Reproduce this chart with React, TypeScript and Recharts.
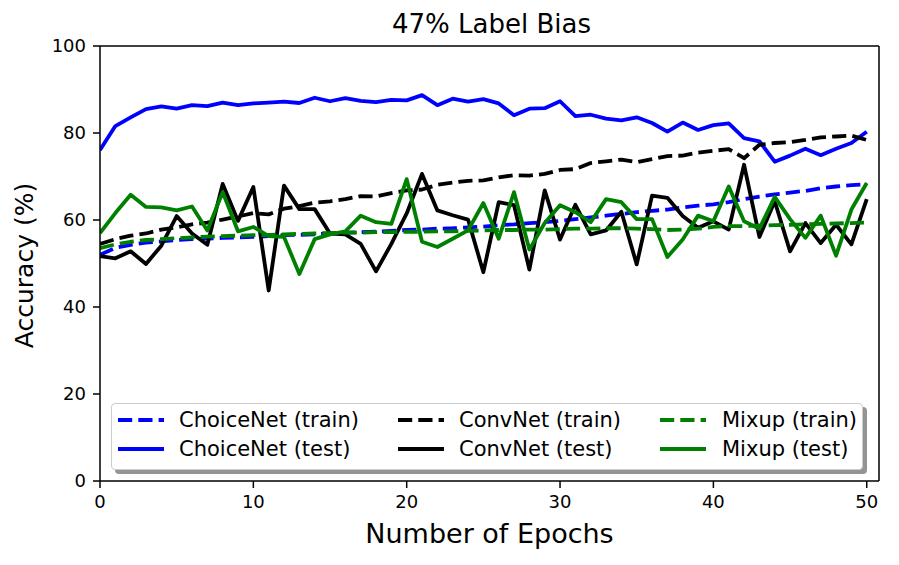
import React from 'react';
import {
  LineChart,
  Line,
  XAxis,
  YAxis,
  Legend,
  Label,
  ReferenceLine,
} from 'recharts';

const epochs = Array.from({ length: 51 }, (_, i) => i);

const choiceTrain = [
  52.0, 53.6, 54.3, 54.8, 55.1, 55.4, 55.6, 55.7, 55.9, 56.0, 56.1, 56.3, 56.5, 56.6, 56.7, 56.9, 57.1,
  57.2, 57.3, 57.5, 57.7, 57.8, 58.0, 58.1, 58.3, 58.5, 58.8, 59.0, 59.3, 59.5, 59.8, 60.2, 60.6, 61.0,
  61.4, 61.8, 62.1, 62.4, 62.9, 63.3, 63.6, 64.1, 64.8, 65.4, 65.9, 66.3, 66.7, 67.3, 67.7, 68.0, 68.2,
];
const choiceTest = [
  76.1, 81.6, 83.6, 85.5, 86.1, 85.6, 86.4, 86.2, 87.0, 86.4, 86.8, 87.0, 87.2, 86.9, 88.1, 87.3, 88.0,
  87.4, 87.1, 87.6, 87.5, 88.7, 86.4, 87.9, 87.2, 87.8, 86.8, 84.1, 85.6, 85.7, 87.3, 83.9, 84.2, 83.3,
  82.9, 83.6, 82.3, 80.3, 82.4, 80.7, 81.8, 82.2, 78.8, 78.1, 73.4, 74.8, 76.4, 74.9, 76.4, 77.7, 80.3,
];
const convTrain = [
  54.5, 55.6, 56.4, 56.9, 57.8, 58.3, 59.0, 59.4, 60.1, 60.8, 61.6, 61.3, 62.6, 63.2, 64.0, 64.3, 64.8,
  65.5, 65.4, 66.2, 66.8, 67.0, 68.1, 68.6, 69.0, 69.1, 69.8, 70.3, 70.2, 70.6, 71.5, 71.7, 73.1, 73.5,
  73.9, 73.3, 74.0, 74.7, 74.8, 75.5, 75.9, 76.3, 74.2, 77.3, 77.7, 77.9, 78.4, 79.0, 79.2, 79.4, 78.4,
];
const convTest = [
  51.7, 51.2, 52.8, 49.9, 54.1, 60.9, 56.9, 54.3, 68.3, 59.8, 67.6, 43.8, 67.9, 62.5, 62.5, 56.9, 56.7,
  54.5, 48.2, 54.5, 61.5, 70.6, 62.2, 61.1, 60.1, 48.0, 64.1, 63.4, 48.6, 66.8, 55.5, 63.5, 56.7, 57.6,
  61.9, 49.8, 65.6, 65.1, 60.9, 58.2, 59.7, 57.8, 72.7, 56.1, 64.3, 52.8, 59.3, 54.7, 58.9, 54.4, 64.8,
];
const mixTrain = [
  53.5, 54.4, 55.0, 55.4, 55.6, 55.8, 56.0, 56.2, 56.3, 56.4, 56.5, 56.6, 56.7, 56.8, 56.9, 57.0, 57.1,
  57.1, 57.2, 57.2, 57.3, 57.3, 57.4, 57.4, 57.5, 57.6, 57.7, 57.7, 57.8, 57.8, 57.9, 58.0, 58.0, 58.1,
  58.1, 58.0, 57.9, 57.7, 57.8, 58.0, 58.4, 58.6, 58.6, 58.7, 58.8, 58.9, 59.0, 59.1, 59.2, 59.3, 59.4,
];
const mixTest = [
  57.0, 61.6, 65.8, 63.0, 62.9, 62.2, 63.1, 57.6, 66.4, 57.4, 58.4, 56.3, 56.1, 47.6, 55.6, 56.7, 57.4,
  61.0, 59.5, 59.1, 69.4, 55.0, 53.8, 55.7, 57.6, 63.9, 55.7, 66.4, 53.2, 59.3, 63.4, 61.8, 59.5, 64.8,
  64.1, 60.2, 60.2, 51.5, 55.5, 61.0, 59.7, 67.7, 59.7, 58.0, 65.3, 60.2, 55.9, 61.0, 51.8, 62.4, 68.5,
];

const xTicks = [0, 10, 20, 30, 40, 50];
const yTicks = [0, 20, 40, 60, 80, 100];

const series = [
  { key: 'choiceTrain', name: 'ChoiceNet (train)', color: '#0000ff', dashed: true },
  { key: 'choiceTest', name: 'ChoiceNet (test)', color: '#0000ff', dashed: false },
  { key: 'convTrain', name: 'ConvNet (train)', color: '#000000', dashed: true },
  { key: 'convTest', name: 'ConvNet (test)', color: '#000000', dashed: false },
  { key: 'mixTrain', name: 'Mixup (train)', color: '#008000', dashed: true },
  { key: 'mixTest', name: 'Mixup (test)', color: '#008000', dashed: false },
];

const data = epochs.map((e, i) => ({
  epoch: e,
  choiceTrain: choiceTrain[i],
  choiceTest: choiceTest[i],
  convTrain: convTrain[i],
  convTest: convTest[i],
  mixTrain: mixTrain[i],
  mixTest: mixTest[i],
}));

const FONT = '"DejaVu Sans", sans-serif';
const LW = 3.8;
const DASH = '14.2 6.1';

// legend columns (relative to the legend box)
const colSample = [7, 287, 549];
const colText = [68, 348, 611];
const rowMid = [17, 46];

function LegendBox() {
  return (
    <div
      style={{
        position: 'relative',
        width: 752,
        height: 67,
        background: '#fff',
        border: '1px solid #cccccc',
        borderRadius: 4,
        boxSizing: 'border-box',
        boxShadow: '4px 4px 0 rgba(0,0,0,0.42)',
        fontFamily: FONT,
        fontSize: 21,
        color: '#000',
      }}
    >
      {series.map((s, i) => {
        const col = Math.floor(i / 2);
        const row = i % 2;
        return (
          <React.Fragment key={s.key}>
            <svg
              width={46}
              height={10}
              style={{ position: 'absolute', left: colSample[col] - 1, top: rowMid[row] - 6 }}
            >
              <line
                x1={0}
                x2={46}
                y1={5}
                y2={5}
                stroke={s.color}
                strokeWidth={LW}
                strokeDasharray={s.dashed ? DASH : undefined}
              />
            </svg>
            <div
              style={{
                position: 'absolute',
                left: colText[col] - 1,
                top: rowMid[row] - 15.5,
                height: 29,
                lineHeight: '29px',
                whiteSpace: 'nowrap',
              }}
            >
              {s.name}
            </div>
          </React.Fragment>
        );
      })}
    </div>
  );
}

const renderXLabel = (props: any) => {
  const vb = props.viewBox;
  return (
    <text
      x={vb.x + vb.width / 2}
      y={vb.y + 62}
      textAnchor="middle"
      fontFamily={FONT}
      fontSize={27}
      fill="#000"
    >
      Number of Epochs
    </text>
  );
};

const renderYLabel = (props: any) => {
  const vb = props.viewBox;
  const cx = vb.x + 24;
  const cy = vb.y + vb.height / 2 + 2;
  return (
    <text
      x={cx}
      y={cy}
      transform={`rotate(-90, ${cx}, ${cy})`}
      textAnchor="middle"
      dominantBaseline="central"
      fontFamily={FONT}
      fontSize={25}
      fill="#000"
    >
      Accuracy (%)
    </text>
  );
};

export default function App() {
  const tick = { fontSize: 18, fill: '#000', fontFamily: FONT };
  return (
    <div style={{ position: 'absolute', left: 0, top: 0, width: 899, height: 565, background: '#fff' }}>
      <div
        style={{
          position: 'absolute',
          left: 102,
          width: 779,
          top: 9,
          height: 30,
          lineHeight: '30px',
          textAlign: 'center',
          fontFamily: FONT,
          fontSize: 26,
          color: '#000',
        }}
      >
        47% Label Bias
      </div>
      <LineChart width={899} height={565} data={data} margin={{ top: 46, right: 20, bottom: 0, left: 0 }}>
        <XAxis
          dataKey="epoch"
          type="number"
          domain={[0, 50.8]}
          ticks={xTicks}
          allowDataOverflow
          height={84}
          tick={tick}
          tickSize={7}
          tickMargin={7}
          axisLine={{ stroke: '#000', strokeWidth: 1.5 }}
          tickLine={{ stroke: '#000', strokeWidth: 1.5 }}
        >
          <Label content={renderXLabel} />
        </XAxis>
        <YAxis
          type="number"
          domain={[0, 100]}
          ticks={yTicks}
          width={100}
          tick={tick}
          tickSize={7}
          tickMargin={7}
          axisLine={{ stroke: '#000', strokeWidth: 1.5 }}
          tickLine={{ stroke: '#000', strokeWidth: 1.5 }}
        >
          <Label content={renderYLabel} />
        </YAxis>
        <ReferenceLine y={100} stroke="#000" strokeWidth={1.5} />
        <ReferenceLine x={50.8} stroke="#000" strokeWidth={1.5} />
        {series.map((s) => (
          <Line
            key={s.key}
            dataKey={s.key}
            name={s.name}
            type="linear"
            stroke={s.color}
            strokeWidth={LW}
            strokeDasharray={s.dashed ? DASH : undefined}
            strokeLinejoin="round"
            dot={false}
            activeDot={false}
            isAnimationActive={false}
          />
        ))}
        <Legend
          layout="vertical"
          align="center"
          verticalAlign="middle"
          content={() => <LegendBox />}
          wrapperStyle={{ position: 'absolute', left: 111, top: 403, width: 752, height: 67 }}
        />
      </LineChart>
    </div>
  );
}
